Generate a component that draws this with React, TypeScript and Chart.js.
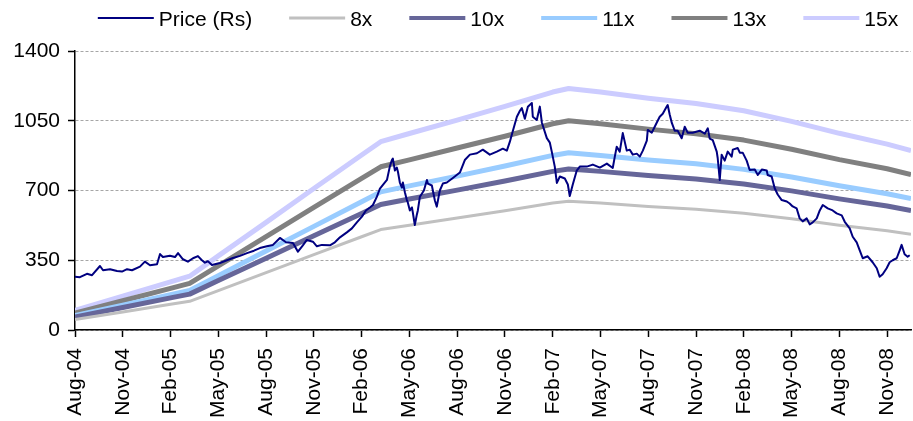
import React, { useEffect, useRef } from 'react';
import { Chart, registerables } from 'chart.js';

Chart.register(...registerables);

// X axis: months counted from Aug-2004
const tickMonths = [0, 3, 6, 9, 12, 15, 18, 21, 24, 27, 30, 33, 36, 39, 42, 45, 48, 51];
const tickLabels = [
  'Aug-04', 'Nov-04', 'Feb-05', 'May-05', 'Aug-05', 'Nov-05', 'Feb-06', 'May-06', 'Aug-06',
  'Nov-06', 'Feb-07', 'May-07', 'Aug-07', 'Nov-07', 'Feb-08', 'May-08', 'Aug-08', 'Nov-08',
];
const xMax = 52.5;

const yTicks = [0, 350, 700, 1050, 1400];

// PE band lines (Rs), sampled at these months
const bandMonths = [0, 3, 6, 7.2, 9, 12, 15, 18, 19.2, 21, 24, 27, 30, 31, 33, 36, 39, 42, 45, 48, 51, 52.5];
const band8x = [52, 90, 129, 144, 198, 288, 378, 468, 504, 526, 562, 598, 637, 646, 637, 620, 606, 586, 558, 526, 498, 480];
const band10x = [65, 113, 161, 180, 248, 360, 473, 585, 630, 657, 702, 748, 796, 808, 796, 775, 758, 733, 698, 658, 622, 600];
const band11x = [72, 124, 177, 198, 273, 396, 520, 644, 693, 723, 772, 823, 876, 889, 876, 853, 834, 806, 768, 724, 684, 660];
const band13x = [85, 147, 209, 234, 322, 468, 615, 761, 819, 854, 913, 972, 1035, 1050, 1035, 1008, 985, 953, 907, 855, 809, 780];
const band15x = [98, 170, 242, 270, 372, 540, 710, 878, 945, 986, 1053, 1122, 1194, 1212, 1194, 1163, 1137, 1100, 1047, 987, 933, 900];

// Share price (Rs)
const priceMonths = [
  0, 0.31, 0.75, 1.07, 1.57, 1.76, 2.2, 2.64, 2.95, 3.27, 3.58, 4.08, 4.39, 4.71, 5.15, 5.34, 5.52, 5.96, 6.28, 6.47,
  6.78, 7.09, 7.41, 7.72, 7.97, 8.16, 8.35, 8.6, 9.1, 9.54, 9.92, 10.36, 10.8, 11.24, 11.61, 12.05, 12.43, 12.87, 13.25, 13.69,
  14.0, 14.31, 14.56, 14.94, 15.19, 15.5, 16.01, 16.32, 16.64, 17.07, 17.39, 17.7, 18.02, 18.27, 18.52, 18.71, 18.96, 19.15, 19.4, 19.59,
  19.77, 19.9, 19.96, 20.09, 20.21, 20.28, 20.4, 20.53, 20.59, 20.72, 20.84, 20.9, 21.03, 21.16, 21.22, 21.34, 21.47, 21.53, 21.66, 21.91,
  22.1, 22.16, 22.41, 22.6, 22.72, 22.91, 23.1, 23.35, 23.73, 24.17, 24.48, 24.8, 25.24, 25.61, 26.05, 26.49, 26.87, 27.12, 27.31, 27.5,
  27.75, 27.94, 28.06, 28.25, 28.44, 28.69, 28.75, 29.0, 29.19, 29.32, 29.63, 29.82, 29.94, 30.13, 30.26, 30.45, 30.76, 30.95, 31.07, 31.26,
  31.51, 31.7, 32.14, 32.52, 32.96, 33.4, 33.77, 33.9, 34.02, 34.21, 34.4, 34.65, 34.84, 35.03, 35.28, 35.47, 35.66, 35.91, 35.97, 36.22,
  36.53, 36.72, 36.91, 37.16, 37.22, 37.35, 37.48, 37.66, 37.85, 38.1, 38.29, 38.48, 38.79, 39.23, 39.55, 39.74, 39.86, 40.05, 40.3, 40.36,
  40.49, 40.61, 40.8, 40.99, 41.24, 41.31, 41.62, 41.75, 41.93, 42.18, 42.37, 42.69, 42.88, 43.13, 43.44, 43.5, 43.75, 43.94, 44.13, 44.38,
  44.7, 44.88, 45.07, 45.32, 45.51, 45.7, 45.95, 46.14, 46.33, 46.58, 46.77, 46.96, 47.27, 47.58, 47.83, 48.15, 48.34, 48.65, 48.84, 49.09,
  49.28, 49.47, 49.78, 50.09, 50.35, 50.53, 50.72, 50.97, 51.16, 51.35, 51.6, 51.79, 51.91, 52.1, 52.29, 52.42,
];
const priceValues = [
  267, 265, 282, 275, 321, 300, 305, 296, 293, 305, 300, 318, 343, 325, 330, 381, 366, 373, 366, 386,
  355, 343, 360, 371, 350, 338, 345, 326, 336, 350, 361, 372, 386, 398, 411, 420, 427, 462, 440, 437,
  393, 425, 452, 443, 420, 427, 425, 440, 465, 490, 510, 540, 569, 600, 615, 627, 669, 710, 735, 753,
  820, 853, 860, 800, 815, 794, 740, 715, 740, 690, 652, 640, 600, 615, 587, 527, 580, 600, 669, 700,
  753, 735, 725, 650, 619, 700, 735, 740, 763, 790, 853, 880, 887, 905, 880, 895, 910, 900, 945, 1000,
  1070, 1100, 1114, 1060, 1120, 1139, 1070, 1054, 1121, 1040, 963, 940, 895, 820, 738, 770, 760, 730, 672, 730,
  800, 820, 820, 830, 815, 835, 813, 870, 920, 895, 988, 900, 905, 880, 885, 870, 900, 950, 1004, 990,
  1040, 1070, 1085, 1121, 1129, 1080, 1039, 1000, 1000, 962, 1020, 990, 990, 1000, 985, 1012, 960, 953, 895, 863,
  753, 880, 850, 895, 870, 905, 913, 890, 890, 850, 803, 805, 778, 805, 800, 778, 770, 711, 680, 652,
  645, 635, 620, 610, 560, 545, 560, 530, 540, 560, 600, 627, 610, 600, 585, 575, 543, 510, 468, 440,
  400, 360, 370, 340, 310, 267, 280, 310, 340, 350, 360, 400, 427, 380, 368, 375,
];

const FONT_FAMILY = '"Liberation Sans", Arial, sans-serif';

const legendPlugin = {
  id: 'bandLegend',
  afterDraw(chart: any) {
    const ctx = chart.ctx;
    const { left, right } = chart.chartArea;
    ctx.save();
    ctx.font = `21px ${FONT_FAMILY}`;
    const sample = 56;
    const gapText = 5;
    const gapItem = 37;
    const items = chart.data.datasets.map((ds: any) => ({
      text: ds.label,
      color: ds.borderColor,
      width: Math.min(ds.borderWidth, 4),
      tw: ctx.measureText(ds.label).width,
    }));
    const total =
      items.reduce((s: number, it: any) => s + sample + gapText + it.tw, 0) + gapItem * (items.length - 1);
    let x = (left + right) / 2 - total / 2 + 5;
    const y = 18;
    ctx.textBaseline = 'middle';
    ctx.textAlign = 'left';
    for (const it of items) {
      ctx.strokeStyle = it.color;
      ctx.lineWidth = it.width;
      ctx.beginPath();
      ctx.moveTo(x, y);
      ctx.lineTo(x + sample, y);
      ctx.stroke();
      x += sample + gapText;
      ctx.fillStyle = '#000';
      ctx.fillText(it.text, x, y + 2);
      x += it.tw + gapItem;
    }
    ctx.restore();
  },
};

const toPoints = (xs: number[], ys: number[]) => xs.map((x, i) => ({ x, y: ys[i] }));

export default function App() {
  const canvasRef = useRef<HTMLCanvasElement | null>(null);

  useEffect(() => {
    if (!canvasRef.current) return;
    const lineDs = (label: string, xs: number[], ys: number[], color: string, width: number) => ({
      label,
      data: toPoints(xs, ys),
      borderColor: color,
      backgroundColor: color,
      borderWidth: width,
      pointRadius: 0,
      tension: 0,
      fill: false,
      borderJoinStyle: 'round' as const,
    });

    const chart = new Chart(canvasRef.current, {
      type: 'line',
      data: {
        datasets: [
          lineDs('Price (Rs)', priceMonths, priceValues, '#000080', 2),
          lineDs('8x', bandMonths, band8x, '#C0C0C0', 3),
          lineDs('10x', bandMonths, band10x, '#666699', 5),
          lineDs('11x', bandMonths, band11x, '#99CCFF', 5),
          lineDs('13x', bandMonths, band13x, '#808080', 5),
          lineDs('15x', bandMonths, band15x, '#CCCCFF', 5),
        ],
      },
      options: {
        responsive: false,
        animation: false,
        layout: { padding: { top: 51, right: 2, left: 0, bottom: 0 } },
        plugins: {
          legend: { display: false },
          tooltip: { enabled: false },
        },
        scales: {
          x: {
            type: 'linear',
            min: 0,
            max: xMax,
            afterBuildTicks: (scale: any) => {
              scale.ticks = tickMonths.map((v) => ({ value: v }));
            },
            afterFit: (scale: any) => {
              scale.height = 91;
              scale.paddingRight = 0;
              scale.paddingLeft = 0;
            },
            ticks: {
              autoSkip: false,
              minRotation: 90,
              maxRotation: 90,
              padding: 11,
              color: '#000',
              font: { family: FONT_FAMILY, size: 21 },
              callback: (value: any) => {
                const i = tickMonths.indexOf(Number(value));
                return i >= 0 ? tickLabels[i] : '';
              },
            },
            grid: {
              drawOnChartArea: false,
              drawTicks: true,
              tickLength: 7,
              tickColor: '#000',
              tickWidth: 1.5,
            },
            border: { display: true, color: '#000', width: 1.5 },
          },
          y: {
            type: 'linear',
            min: 0,
            max: 1400,
            afterBuildTicks: (scale: any) => {
              scale.ticks = yTicks.map((v) => ({ value: v }));
            },
            afterFit: (scale: any) => {
              scale.width = 75;
            },
            ticks: {
              padding: 8,
              color: '#000',
              font: { family: FONT_FAMILY, size: 21 },
              callback: (value: any) => String(value),
            },
            grid: {
              drawOnChartArea: true,
              drawTicks: true,
              tickLength: 7,
              color: '#A6A6A6',
              lineWidth: 1,
              tickColor: '#000',
              tickWidth: 1.5,
              tickBorderDash: [],
            },
            border: { display: true, color: '#000', width: 1.5, dash: [3, 2] },
          },
        },
      },
      plugins: [legendPlugin],
    });
    return () => chart.destroy();
  }, []);

  return (
    <div style={{ position: 'absolute', left: 0, top: 0, width: 913, height: 421, background: '#fff' }}>
      <canvas ref={canvasRef} width={913} height={421} style={{ display: 'block' }} />
    </div>
  );
}
